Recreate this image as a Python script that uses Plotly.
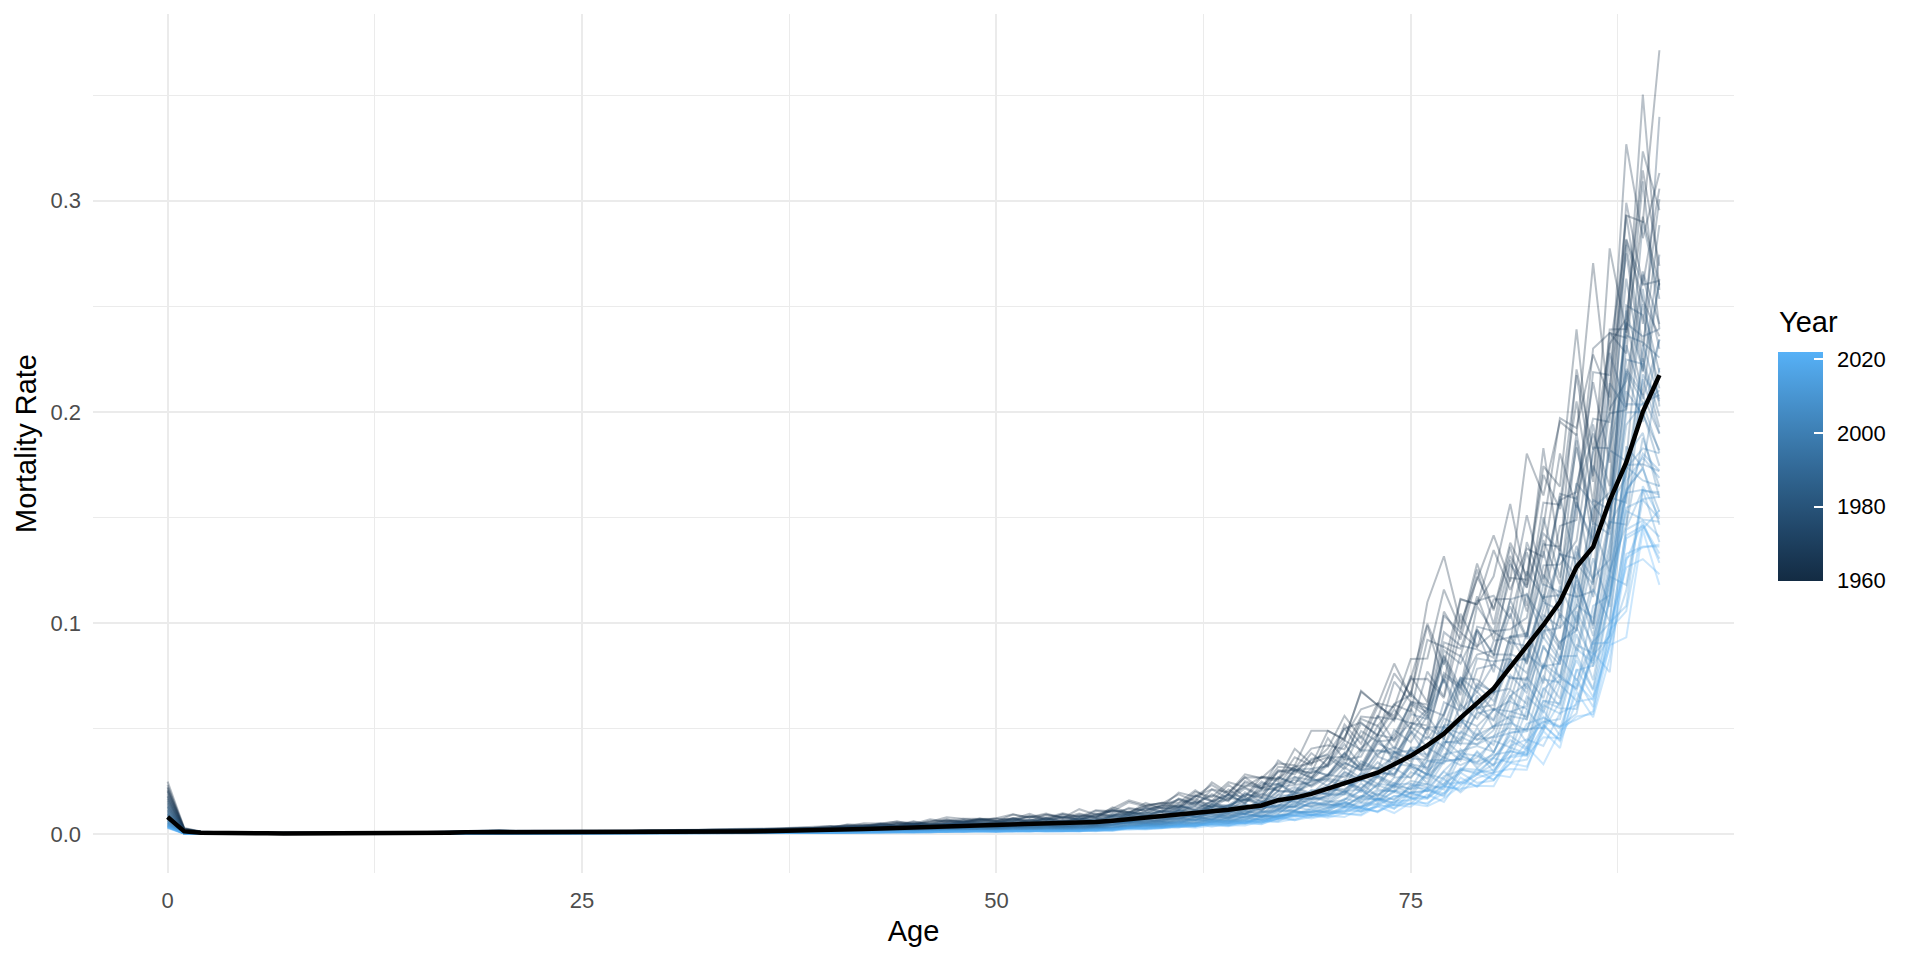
import math
import plotly.graph_objects as go

# ---------------- data ----------------
ages = list(range(91))
years = list(range(1960, 2023))

# black summary line, mortality rate by age
mean_rate = [
    0.0080, 0.0012, 0.0006, 0.0004, 0.0003, 0.0003, 0.0003, 0.0002, 0.0002, 0.0002,
    0.0002, 0.0002, 0.0002, 0.0003, 0.0003, 0.0004, 0.0005, 0.0006, 0.0008, 0.0008,
    0.0009, 0.0008, 0.0008, 0.0008, 0.0007, 0.0008, 0.0008, 0.0008, 0.0008, 0.0009,
    0.0009, 0.0010, 0.0010, 0.0011, 0.0011, 0.0012, 0.0013, 0.0014, 0.0016, 0.0017,
    0.0019, 0.0021, 0.0023, 0.0026, 0.0028, 0.0030, 0.0032, 0.0034, 0.0036, 0.0038,
    0.0040, 0.0043, 0.0045, 0.0047, 0.0049, 0.0052, 0.0057, 0.0063, 0.0070, 0.0078,
    0.0087, 0.0095, 0.0102, 0.0108, 0.0115, 0.0125, 0.0135, 0.0160, 0.0172, 0.0190,
    0.0215, 0.0240, 0.0265, 0.0290, 0.0330, 0.0370, 0.0420, 0.0475, 0.0550, 0.0620,
    0.0690, 0.0790, 0.0890, 0.0990, 0.1100, 0.1265, 0.1360, 0.1580, 0.1760, 0.2000,
    0.2174,
]

# ratio of the earliest-year curve to the summary line, by age
hi_ratio = [
    3.10, 2.40, 2.00, 2.00, 2.00, 2.00, 2.00, 2.00, 2.00, 2.00,
    2.00, 2.00, 2.00, 2.00, 2.00, 2.00, 2.00, 2.00, 2.00, 2.00,
    2.00, 2.00, 2.00, 2.00, 2.00, 2.00, 2.00, 2.00, 2.00, 2.00,
    2.00, 2.00, 2.00, 2.00, 2.00, 1.95, 1.95, 1.95, 1.90, 1.90,
    1.90, 1.90, 1.90, 1.90, 1.90, 1.90, 1.90, 1.90, 1.90, 1.90,
    1.85, 1.85, 1.85, 1.85, 1.85, 1.85, 1.80, 1.80, 1.78, 1.76,
    1.75, 1.78, 1.82, 1.86, 1.90, 1.94, 1.96, 1.98, 2.00, 2.02,
    2.05, 2.08, 2.10, 2.10, 2.10, 2.10, 2.05, 2.00, 1.92, 1.84,
    1.76, 1.70, 1.66, 1.62, 1.60, 1.58, 1.56, 1.52, 1.50, 1.45,
    1.40,
]
# ratio of the latest-year curve to the summary line, by age
lo_ratio = [
    0.35, 0.12, 0.30, 0.30, 0.30, 0.30, 0.30, 0.30, 0.30, 0.30,
    0.30, 0.30, 0.30, 0.30, 0.30, 0.30, 0.30, 0.30, 0.30, 0.30,
    0.30, 0.30, 0.30, 0.30, 0.30, 0.30, 0.30, 0.30, 0.30, 0.30,
    0.30, 0.30, 0.30, 0.30, 0.30, 0.30, 0.30, 0.30, 0.28, 0.28,
    0.28, 0.28, 0.28, 0.28, 0.28, 0.28, 0.28, 0.28, 0.28, 0.28,
    0.27, 0.27, 0.26, 0.26, 0.25, 0.25, 0.26, 0.28, 0.30, 0.31,
    0.32, 0.33, 0.34, 0.35, 0.36, 0.37, 0.38, 0.38, 0.38, 0.38,
    0.38, 0.38, 0.37, 0.37, 0.36, 0.36, 0.35, 0.35, 0.35, 0.35,
    0.35, 0.36, 0.38, 0.40, 0.42, 0.44, 0.47, 0.51, 0.56, 0.59,
    0.61,
]

# where each year sits between the earliest (0) and latest (1) curve
year_position = [
    0.00, 0.05, 0.03, 0.08, 0.06, 0.10, 0.12, 0.09, 0.15, 0.14,
    0.18, 0.16, 0.21, 0.19, 0.24, 0.22, 0.27, 0.25, 0.30, 0.29,
    0.33, 0.31, 0.36, 0.35, 0.38, 0.41, 0.39, 0.43, 0.45, 0.44,
    0.48, 0.47, 0.51, 0.50, 0.54, 0.53, 0.57, 0.56, 0.60, 0.62,
    0.64, 0.63, 0.67, 0.69, 0.71, 0.70, 0.74, 0.76, 0.75, 0.79,
    0.81, 0.80, 0.84, 0.86, 0.85, 0.88, 0.90, 0.89, 0.93, 0.95,
    0.97, 0.96, 1.00,
]

# year-to-year zigzag for ages 40..90 (one character per age)
jitter_codes = [
    "5274613852 4736182594 3618274539 6284719B35 72846391648",
    "3862514736 2947361825 5173846293 4826375A48 36274918352",
    "6134728365 5381627494 2846375162 7395148264 58137462945",
    "4725381647 3618452736 6492817354 3587261948 46291835473",
    "2843617525 6274835162 4159382647 5264839175 83426175392",
    "5617283946 4283615739 3726184652 8174529637 25384716485",
    "3482761524 5716384926 4283561748 2938475163 64825371946",
    "6358142735 3472819563 5618273945 4762831959 37164825731",
    "4261857349 6153728461 2947385162 5384617294 48253617482",
    "5739264183 2846173952 6352814763 3927461858 73614285936",
    "3516482769 4927361548 3781526493 6145873829 52837461954",
    "4873152694 3562847315 5294638172 4738152A64 28463715829",
    "2648371593 6183524769 4372819563 5816374928 64372815463",
    "5384726152 4729163854 3615482739 7284631957 36182574936",
    "4157382649 5362748193 6824173562 3549271846 57264381725",
    "6283514738 3847192656 4153826497 5682473918 42738165384",
    "3726481593 5164837262 3748192654 4827156393 75381629473",
    "5842617385 2736481953 6281374958 3716452849 38625174936",
    "4365182736 6481735294 3527461839 5839162475 26473851962",
    "2718364952 4356172864 5863247193 4627385916 58146372854",
    "5493726185 3724618539 4618273645 6352947182 37264819573",
    "3638152749 5816273946 2735481926 4186357A38 64827153946",
    "6172483659 4263718452 5864132759 3728516493 46385217964",
    "4826371548 3159264837 4327685142 5843172695 73152846382",
    "3564817293 6472153846 3915742683 4627381956 28574613945",
    "5217364895 4386172539 6248371564 3159846273 57362184962",
    "4783256148 2635481974 4713628359 6284517394 36481527843",
    "2956134782 5347281653 3826457194 4735162849 64825173952",
    "6341827536 3826154729 5167382645 3948275163 43718265473",
    "3875162493 4518376254 2694817536 5163842759 58264371946",
    "5128473659 6372815463 4835162974 4726381539 27483615952",
    "4692381745 3184627958 5372648153 6351974826 35172846384",
    "3546718392 5827361465 3618475329 4283615947 62847153965",
    "5213874659 4638152793 6485327164 3726481958 48362715473",
    "2867435162 3916284753 4271836549 5847261394 74153826385",
    "6435182974 5274613859 3849261754 4372851693 26583714962",
    "3781524683 4362817594 5738164293 6518274935 53726481847",
    "4528367159 2847163584 3162748596 4937162853 47182635973",
    "5164938275 6382745163 4526381749 3281647595 65273814462",
    "3897214563 4715382694 2847361558 5762481937 38461725853",
    "4352681749 3628174956 6193827564 4815273649 27583614972",
    "6243718952 5136482749 3748562193 3627418595 54826371864",
    "2786345168 4573826194 5281647395 6148352976 36274815953",
    "5318472693 3847165254 4627318548 3582617944 62835174862",
    "4653182749 6218374563 3785264159 5264837192 48172635974",
    "3472568195 4785261934 5126483759 4391752863 75318246853",
    "5827314658 3149627584 4658371294 6273518496 27463815972",
    "4136825793 5672418356 3295748162 3847265195 53826147364",
    "6385142769 2863571948 5734186253 4518632794 46187253985",
    "3518764283 4327685149 6148253974 5726183459 38542716963",
    "4762381594 5918264738 2573618465 3186475923 67284153872",
    "5297463815 3481726593 4836172548 6453821769 25173846953",
    "3643817256 6274153849 3518746293 4927365184 54862173475",
    "4815267394 4735819263 5263418759 3648217596 36281754963",
    "2378154926 5162738459 4729651383 5813746285 73146825384",
    "5536248173 3847261595 6318542764 4265873914 48625371962",
    "4182736548 6253184762 3847265195 3751648293 26483715853",
    "6724518263 4518637294 5136728458 6429183756 57361824965",
    "3465271839 2836475186 4765183924 5317264839 35784216473",
    "5813647259 5374128693 3291657485 3846527193 64182537852",
    "4256813947 3682571934 5847316259 4173682954 28563714983",
    "3617482536 4159836275 2638451793 5682741368 46271835964",
    "5348261794 6273548162 4715263849 3528164795 73815426382",
]
JITTER_FIRST_AGE = 40
JITTER_LEVELS = "0123456789ABC"

x_tick_vals = [0, 25, 50, 75]
x_minor_vals = [12.5, 37.5, 62.5, 87.5]
y_tick_vals = [0.0, 0.1, 0.2, 0.3]
y_tick_text = ["0.0", "0.1", "0.2", "0.3"]
y_minor_vals = [0.05, 0.15, 0.25, 0.35]
legend_tick_vals = [1960, 1980, 2000, 2020]

LOW_COLOUR = "#132B43"
HIGH_COLOUR = "#56B1F7"
FONT = "Liberation Sans, Arial, sans-serif"


# ---------------- colour ramp (CIELAB, like ggplot2) ----------------
def _lin(c):
    c = c / 255.0
    return c / 12.92 if c <= 0.04045 else ((c + 0.055) / 1.055) ** 2.4


def _gam(c):
    c = 12.92 * c if c <= 0.0031308 else 1.055 * (max(c, 0) ** (1 / 2.4)) - 0.055
    return max(0, min(255, round(c * 255)))


def hex_to_lab(h):
    r, g, b = [_lin(int(h[i:i + 2], 16)) for i in (1, 3, 5)]
    X = (0.4124 * r + 0.3576 * g + 0.1805 * b) / 0.95047
    Y = 0.2126 * r + 0.7152 * g + 0.0722 * b
    Z = (0.0193 * r + 0.1192 * g + 0.9505 * b) / 1.08883
    f = lambda t: t ** (1 / 3) if t > 0.008856 else 7.787 * t + 16 / 116
    fx, fy, fz = f(X), f(Y), f(Z)
    return (116 * fy - 16, 500 * (fx - fy), 200 * (fy - fz))


def lab_to_rgb(L, a, b):
    fy = (L + 16) / 116
    fx = fy + a / 500
    fz = fy - b / 200
    finv = lambda t: t ** 3 if t ** 3 > 0.008856 else (t - 16 / 116) / 7.787
    X = finv(fx) * 0.95047
    Y = finv(fy)
    Z = finv(fz) * 1.08883
    r = 3.2406 * X - 1.5372 * Y - 0.4986 * Z
    g = -0.9689 * X + 1.8758 * Y + 0.0415 * Z
    bb = 0.0557 * X - 0.2040 * Y + 1.0570 * Z
    return tuple(_gam(v) for v in (r, g, bb))


LAB_LO = hex_to_lab(LOW_COLOUR)
LAB_HI = hex_to_lab(HIGH_COLOUR)


def ramp(t):
    return lab_to_rgb(*[lo + (hi - lo) * t for lo, hi in zip(LAB_LO, LAB_HI)])


y_min, y_max = min(years), max(years)


# ---------------- figure ----------------
fig = go.Figure()

for i, yr in enumerate(years):
    code = jitter_codes[i].replace(" ", "")
    p = year_position[i]
    vals = []
    for a in ages:
        lvl = math.exp(math.log(hi_ratio[a]) + p * (math.log(lo_ratio[a]) - math.log(hi_ratio[a])))
        j = 0.0
        k = a - JITTER_FIRST_AGE
        if 0 <= k < len(code):
            j = (JITTER_LEVELS.index(code[k]) - 4) * 0.055
        vals.append(mean_rate[a] * lvl * (1 + j))
    r, g, b = ramp((yr - y_min) / (y_max - y_min))
    fig.add_trace(go.Scatter(
        x=ages, y=vals, mode="lines",
        line=dict(color=f"rgba({r},{g},{b},0.3)", width=2),
        showlegend=False, hoverinfo="skip",
    ))

fig.add_trace(go.Scatter(
    x=ages, y=mean_rate, mode="lines",
    line=dict(color="black", width=4.5),
    showlegend=False, hoverinfo="skip",
))

scale = []
for s in range(11):
    r, g, b = ramp(s / 10)
    scale.append([s / 10, f"rgb({r},{g},{b})"])

bar_common = dict(
    xref="container", yref="container",
    x=0.9217, xanchor="left", y=0.4667, yanchor="middle",
    lenmode="pixels", len=229, thickness=45,
    xpad=0, ypad=0, outlinewidth=0,
    tickvals=legend_tick_vals,
)

# gradient bar with white inside ticks
fig.add_trace(go.Scatter(
    x=[None], y=[None], mode="markers",
    marker=dict(
        color=[y_min], cmin=y_min, cmax=y_max, colorscale=scale, showscale=True,
        colorbar=dict(
            **bar_common,
            ticks="inside", ticklen=9, tickcolor="white", tickwidth=1.5,
            showticklabels=False,
        ),
    ),
    showlegend=False, hoverinfo="skip",
))
# transparent twin bar carrying the labels, pushed out like ggplot
fig.add_trace(go.Scatter(
    x=[None], y=[None], mode="markers",
    marker=dict(
        color=[y_min], cmin=y_min, cmax=y_max,
        colorscale=[[0, "rgba(0,0,0,0)"], [1, "rgba(0,0,0,0)"]], showscale=True,
        colorbar=dict(
            **bar_common,
            ticks="outside", ticklen=10, tickcolor="rgba(0,0,0,0)",
            tickfont=dict(family=FONT, size=22, color="black"),
        ),
    ),
    showlegend=False, hoverinfo="skip",
))

fig.add_annotation(
    text="Year", xref="paper", yref="paper", x=1.0265, y=0.6412,
    xanchor="left", yanchor="middle", showarrow=False,
    font=dict(family=FONT, size=29, color="black"),
)

fig.update_layout(
    width=1920, height=960,
    margin=dict(l=85, r=194, t=6, b=95),
    plot_bgcolor="white", paper_bgcolor="white",
    font=dict(family=FONT),
    xaxis=dict(
        range=[-4.5, 94.5], tickvals=x_tick_vals, showgrid=True,
        gridcolor="#EBEBEB", gridwidth=2, zeroline=False, showline=False,
        ticks="outside", ticklen=8, tickcolor="rgba(0,0,0,0)",
        tickfont=dict(family=FONT, size=22, color="#4D4D4D"),
        minor=dict(tickvals=x_minor_vals, showgrid=True, gridcolor="#EBEBEB", gridwidth=1),
        title=dict(text="Age", font=dict(family=FONT, size=29, color="black"), standoff=8),
    ),
    yaxis=dict(
        range=[-0.0185, 0.3885], tickvals=y_tick_vals, ticktext=y_tick_text,
        showgrid=True, gridcolor="#EBEBEB", gridwidth=2, zeroline=False, showline=False,
        ticks="outside", ticklen=6.5, tickcolor="rgba(0,0,0,0)",
        tickfont=dict(family=FONT, size=22, color="#4D4D4D"),
        minor=dict(tickvals=y_minor_vals, showgrid=True, gridcolor="#EBEBEB", gridwidth=1),
        title=dict(text="Mortality Rate", font=dict(family=FONT, size=29, color="black"), standoff=5),
    ),
)

fig.write_html("out.html")
